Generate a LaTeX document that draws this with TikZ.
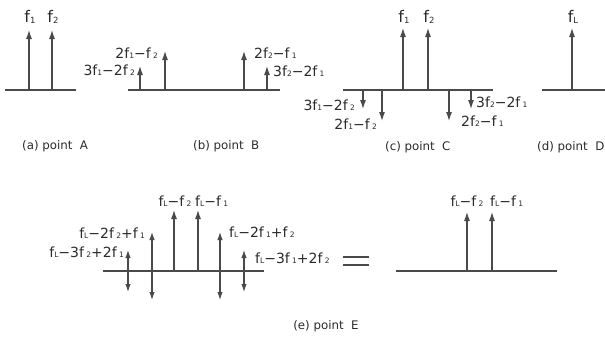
\documentclass[tikz,border=0pt]{standalone}
\usepackage{fontspec}
\setmainfont{DejaVu Sans}
\usetikzlibrary{arrows.meta}
\definecolor{ln}{HTML}{4A4A4A}
\definecolor{tx}{HTML}{2A2A2A}
\newcommand\sbx[1]{\raisebox{-0.3pt}{\fontsize{7.5}{8}\selectfont #1}}
\newcommand\sbb[1]{\raisebox{-0.3pt}{\fontsize{8.5}{9}\selectfont #1}}
\newcommand\fone{f\sbx{1}}
\newcommand\ftwo{f\sbx{2}}
\newcommand\fsone{f\,\sbx{1}}
\newcommand\fstwo{f\,\sbx{2}}
\newcommand\fLL{f\sbx{L}}
\begin{document}
\begin{tikzpicture}[x=1pt,y=-1pt,
  base/.style={draw=ln,line width=1.1pt},
  sig/.style={draw=ln,line width=1.1pt,-{Latex[length=9pt,width=6pt]}},
  dsig/.style={draw=ln,line width=1.1pt,{Latex[length=8pt,width=5.5pt]}-{Latex[length=8pt,width=5.5pt]}},
  lab/.style={text=tx,font=\fontsize{14}{16}\selectfont,inner sep=0pt},
  biglab/.style={text=tx,font=\fontsize{16}{18}\selectfont,inner sep=0pt},
  captxt/.style={text=tx,font=\fontsize{11.8}{13}\selectfont,inner sep=0pt}]
\useasboundingbox (0,0) rectangle (605,338);

% (a)
\draw[base] (5,90) -- (76,90);
\draw[sig] (29,90) -- (29,30);
\draw[sig] (52,90) -- (52,30);
\node[biglab] (a1) at (30,17) {f\sbb{1}};
\node[biglab] (a2) at (53,17) {f\sbb{2}};
\node[captxt,anchor=west] (capa) at (22,146) {(a) point\ \ A};

% (b)
\draw[base] (128,90) -- (280,90);
\draw[sig] (140,90) -- (140,66);
\draw[sig] (165,90) -- (165,51);
\draw[sig] (244,90) -- (244,51);
\draw[sig] (267,90) -- (267,66);
\node[lab,anchor=east] (b1) at (158,53) {2\fone−\fstwo};
\node[lab,anchor=east] (b2) at (135,70) {3\fone−2\fstwo};
\node[lab,anchor=west] (b3) at (254,53) {2\ftwo−\fsone};
\node[lab,anchor=west] (b4) at (273,71) {3\ftwo−2\fsone};
\node[captxt,anchor=west] (capb) at (193,146) {(b) point\ \ B};

% (c)
\draw[base] (343,90) -- (493,90);
\draw[sig] (403,90) -- (403,28);
\draw[sig] (428,90) -- (428,28);
\draw[sig] (363,90) -- (363,109);
\draw[sig] (382,90) -- (382,121);
\draw[sig] (449,90) -- (449,121);
\draw[sig] (471,90) -- (471,109);
\node[biglab] (c1) at (404,17) {f\sbb{1}};
\node[biglab] (c2) at (429,17) {f\sbb{2}};
\node[lab,anchor=east] (c3) at (355,105) {3\fone−2\fstwo};
\node[lab,anchor=east] (c4) at (377,124) {2\fone−\fstwo};
\node[lab,anchor=west] (c5) at (461,121) {2\ftwo−\fsone};
\node[lab,anchor=west] (c6) at (476,102) {3\ftwo−2\fsone};
\node[captxt,anchor=west] (capc) at (385,147) {(c) point\ \ C};

% (d)
\draw[base] (542,90) -- (605,90);
\draw[sig] (572,90) -- (572,28);
\node[biglab] (d1) at (573,17) {f\sbb{L}};
\node[captxt,anchor=west] (capd) at (537,147) {(d) point\ \ D};

% (e) left
\draw[base] (103,271) -- (264,271);
\draw[dsig] (128,250) -- (128,292);
\draw[dsig] (152,232) -- (152,300);
\draw[sig] (174,271) -- (174,210);
\draw[sig] (198,271) -- (198,210);
\draw[dsig] (220,232) -- (220,300);
\draw[dsig] (244,250) -- (244,292);
\node[lab] (e1) at (175,201) {\fLL−\fstwo};
\node[lab,anchor=west] (e2) at (195,201) {\fLL−\fsone};
\node[lab,anchor=east] (e3) at (145,233) {\fLL−2\fstwo+\fsone};
\node[lab,anchor=east] (e4) at (124,252) {\fLL−3\fstwo+2\fsone};
\node[lab,anchor=west] (e5) at (229,232) {\fLL−2\fsone+\fstwo};
\node[lab,anchor=west] (e6) at (255,258) {\fLL−3\fsone+2\fstwo};

% equals
\draw[base] (343,257) -- (369,257);
\draw[base] (343,265) -- (369,265);

% (e) right
\draw[base] (396,271) -- (557,271);
\draw[sig] (467,271) -- (467,212);
\draw[sig] (492,271) -- (492,212);
\node[lab] (r1) at (467,201) {\fLL−\fstwo};
\node[lab,anchor=west] (r2) at (490,201) {\fLL−\fsone};

\node[captxt] (cape) at (326,326) {(e) point\ \ E};
\end{tikzpicture}
\end{document}
